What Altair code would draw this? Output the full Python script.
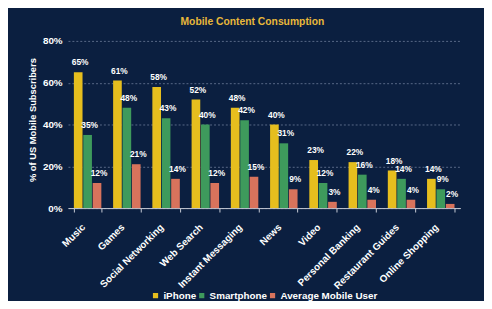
import altair as alt
import pandas as pd

categories = ["Music", "Games", "Social Networking", "Web Search", "Instant Messaging",
              "News", "Video", "Personal Banking", "Restaurant Guides", "Online Shopping"]
series = ["iPhone", "Smartphone", "Average Mobile User"]
iphone = [65, 61, 58, 52, 48, 40, 23, 22, 18, 14]
smartphone = [35, 48, 43, 40, 42, 31, 12, 16, 14, 9]
average = [12, 21, 14, 12, 15, 9, 3, 4, 4, 2]
colors = ["#E6BE1E", "#3E9A5C", "#D8735C"]

rows = []
for i, c in enumerate(categories):
    for s, vals in zip(series, [iphone, smartphone, average]):
        rows.append({"category": c, "series": s, "value": vals[i] / 100.0,
                     "label": f"{vals[i]}%"})
df = pd.DataFrame(rows)

BG = "#0B1F40"
FONT = "Liberation Sans"

base = alt.Chart(df).encode(
    x=alt.X("category:N", sort=categories, title=None,
            scale=alt.Scale(paddingInner=0.3, paddingOuter=0.15),
            axis=alt.Axis(labelAngle=-45, labelColor="white", labelFont=FONT,
                          labelFontWeight="bold", labelFontSize=10, labelPadding=10,
                          labelOffset=-8,
                          domainColor="#C8CCD6", tickColor="#C8CCD6", tickBand="extent",
                          tickSize=4, grid=False)),
    xOffset=alt.XOffset("series:N", sort=series,
                        scale=alt.Scale(paddingInner=0.08)),
)

bars = base.mark_bar().encode(
    y=alt.Y("value:Q", title="% of US Mobile Subscribers",
            scale=alt.Scale(domain=[0, 0.8]),
            axis=alt.Axis(format=".0%", values=[0, 0.2, 0.4, 0.6, 0.8],
                          labelColor="white", labelFont=FONT, labelFontWeight="bold",
                          labelFontSize=10, labelPadding=6, domain=False, ticks=False,
                          titleColor="white", titleFont=FONT, titleFontWeight="bold",
                          titleFontSize=9.5, titlePadding=5, titleY=80,
                          grid=True, gridColor="#5A6A88", gridDash=[2, 2], gridWidth=1)),
    color=alt.Color("series:N", sort=series,
                    scale=alt.Scale(domain=series, range=colors),
                    legend=alt.Legend(title=None, orient="none", direction="horizontal",
                                      legendX=84, legendY=254, symbolType="square",
                                      symbolSize=28, symbolStrokeWidth=0,
                                      labelColor="white", labelFont=FONT,
                                      labelFontWeight="bold", labelFontSize=10,
                                      columnPadding=0, labelOffset=3)),
)

texts = base.mark_text(baseline="bottom", dy=-5, dx=2, color="white", font=FONT,
                       fontWeight="bold", fontSize=8.5).encode(
    y=alt.Y("value:Q"),
    text="label:N",
)

chart = alt.layer(bars, texts).properties(
    width=399, height=170,
    autosize=alt.AutoSizeParams(type="none"),
    padding={"left": 61, "top": 31, "right": 24, "bottom": 92},
    background=BG,
    title=alt.TitleParams("Mobile Content Consumption", anchor="middle", frame="group",
                          color="#E8B83A", font=FONT, fontWeight="bold", fontSize=10.5,
                          baseline="bottom", offset=0, dy=1, dx=-12),
).configure_view(stroke=None)

chart.save("out.html", embed_options={"renderer": "svg", "actions": False})
